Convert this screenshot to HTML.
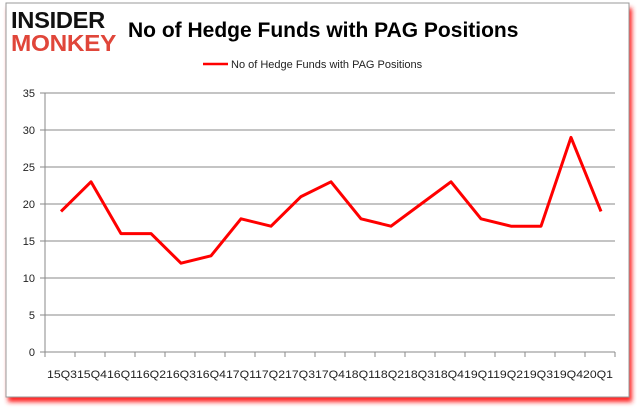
<!DOCTYPE html>
<html><head><meta charset="utf-8"><style>
body{margin:0;background:#fff;}
svg{display:block;font-family:"Liberation Sans",sans-serif;}
</style></head><body>
<svg width="637" height="408" viewBox="0 0 637 408">
<defs><filter id="b" x="-5%" y="-5%" width="110%" height="110%"><feGaussianBlur stdDeviation="2.5"/></filter></defs>
<rect x="8" y="8" width="624" height="394" fill="#ff2020" filter="url(#b)"/>
<rect x="6" y="3" width="623" height="394" fill="#fff" stroke="#9a9a9a" stroke-width="1"/>
<text x="11" y="28" font-size="23" font-weight="bold" fill="#111" letter-spacing="-0.3" textLength="94" lengthAdjust="spacingAndGlyphs">INSIDER</text>
<text x="11" y="51" font-size="23" font-weight="bold" fill="#e0463a" letter-spacing="-0.3" textLength="105" lengthAdjust="spacingAndGlyphs">MONKEY</text>
<text x="128" y="37" font-size="21" font-weight="bold" fill="#000">No of Hedge Funds with PAG Positions</text>
<line x1="203" y1="64" x2="228" y2="64" stroke="#f00" stroke-width="2.5"/>
<text x="231" y="68" font-size="11" fill="#222">No of Hedge Funds with PAG Positions</text>
<g stroke="#8a8a8a" stroke-width="1">
<line x1="45" y1="93" x2="615" y2="93"/><line x1="45" y1="130" x2="615" y2="130"/>
<line x1="45" y1="167" x2="615" y2="167"/><line x1="45" y1="204" x2="615" y2="204"/>
<line x1="45" y1="241" x2="615" y2="241"/><line x1="45" y1="278" x2="615" y2="278"/>
<line x1="45" y1="315" x2="615" y2="315"/><line x1="45" y1="352" x2="615" y2="352"/>
<line x1="45" y1="93" x2="45" y2="352"/>
<line x1="40" y1="93" x2="45" y2="93"/><line x1="40" y1="130" x2="45" y2="130"/><line x1="40" y1="167" x2="45" y2="167"/><line x1="40" y1="204" x2="45" y2="204"/><line x1="40" y1="241" x2="45" y2="241"/><line x1="40" y1="278" x2="45" y2="278"/><line x1="40" y1="315" x2="45" y2="315"/><line x1="40" y1="352" x2="45" y2="352"/>
<path d="M45 352v5M75 352v5M105 352v5M135 352v5M165 352v5M195 352v5M225 352v5M255 352v5M285 352v5M315 352v5M345 352v5M375 352v5M405 352v5M435 352v5M465 352v5M495 352v5M525 352v5M555 352v5M585 352v5M615 352v5"/>
</g>
<g font-size="11" fill="#222" text-anchor="end">
<text x="35" y="97">35</text><text x="35" y="134">30</text><text x="35" y="171">25</text><text x="35" y="208">20</text><text x="35" y="245">15</text><text x="35" y="282">10</text><text x="35" y="319">5</text><text x="35" y="356">0</text>
</g>
<text x="330" y="378" font-size="11" fill="#222" text-anchor="middle" textLength="566" lengthAdjust="spacingAndGlyphs">15Q315Q416Q116Q216Q316Q417Q117Q217Q317Q418Q118Q218Q318Q419Q119Q219Q319Q420Q1</text>
<polyline fill="none" stroke="#f00" stroke-width="3" stroke-linejoin="round" points="61,211.4 91,181.8 121,233.6 151,233.6 181,263.2 211,255.8 241,218.8 271,226.2 301,196.6 331,181.8 361,218.8 391,226.2 421,204 451,181.8 481,218.8 511,226.2 541,226.2 571,137.4 601,211.4"/>
</svg>
</body></html>
